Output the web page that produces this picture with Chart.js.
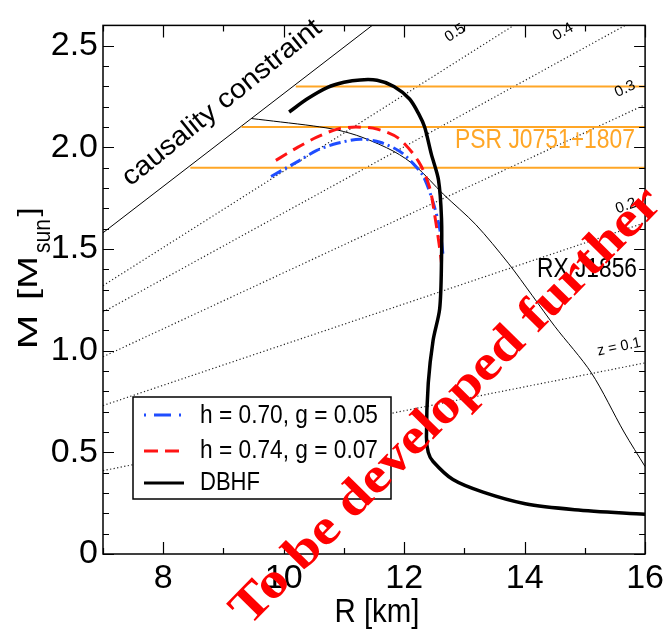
<!DOCTYPE html>
<html><head><meta charset="utf-8">
<script src="https://cdn.jsdelivr.net/npm/chart.js@4.4.1/dist/chart.umd.min.js"></script>
<style>html,body{margin:0;padding:0;background:#fff;}canvas{display:block;}</style>
</head><body>
<canvas id="c" width="668" height="633"></canvas>
<script>
// ---- axis ticks ----
const X_TICKS = [8, 10, 12, 14, 16];
const X_TICK_LABELS = ['8', '10', '12', '14', '16'];
const X_MINOR = [7, 9, 11, 13, 15];
const Y_TICKS = [0, 0.5, 1.0, 1.5, 2.0, 2.5];
const Y_TICK_LABELS = ['0', '0.5', '1.0', '1.5', '2.0', '2.5'];
const Y_MINOR = [0.1,0.2,0.3,0.4,0.6,0.7,0.8,0.9,1.1,1.2,1.3,1.4,1.6,1.7,1.8,1.9,2.1,2.2,2.3,2.4];

// ---- series (R in km, M in Msun) ----
const dbhfR = [10.09,10.4,10.73,11.0,11.27,11.55,11.83,12.09,12.25,12.34,12.45,12.57,12.62,12.62,12.59,12.48,12.40,12.37,12.40,12.48,12.81,13.31,14.01,14.83,16.0];
const dbhfM = [2.174,2.24,2.295,2.32,2.332,2.33,2.30,2.238,2.16,2.10,1.968,1.84,1.65,1.445,1.207,1.05,0.84,0.575,0.50,0.455,0.366,0.304,0.247,0.218,0.195];

const redR = [9.87,10.23,10.55,10.89,11.2,11.55,11.91,12.24,12.42,12.5,12.58,12.62];
const redM = [1.936,2.0,2.05,2.09,2.10,2.09,2.044,1.93,1.806,1.68,1.525,1.43];

const blueR = [9.79,10.23,10.55,10.89,11.27,11.6,11.93,12.15,12.32,12.48,12.59,12.65];
const blueM = [1.857,1.93,1.985,2.02,2.04,2.025,1.98,1.92,1.857,1.73,1.60,1.46];

const rxR = [9.46,9.95,10.5,10.9,11.3,11.83,12.2,12.65,13.19,13.73,14.13,14.5,15.11,15.65,16.0];
const rxM = [2.142,2.125,2.105,2.085,2.05,1.98,1.905,1.77,1.62,1.43,1.27,1.12,0.89,0.60,0.43];

const causalityR = [7.0, 11.47];
const causalityM = [1.58, 2.6];

const z05R = [7.0, 13.82];  const z05M = [1.32, 2.6];
const z04R = [7.0, 15.67];  const z04M = [1.19, 2.6];
const z03R = [7.0, 16.0];   const z03M = [0.97, 2.21];
const z02R = [7.0, 16.0];   const z02M = [0.73, 1.63];
const z01R = [7.0, 16.0];   const z01M = [0.41, 0.94];

const psrStartR = [8.45, 9.3, 10.2];
const psrEndR = [16.0, 16.0, 16.0];
const psrM = [1.9, 2.1, 2.3];

const legendLabels = ['h = 0.70, g = 0.05', 'h = 0.74, g = 0.07', 'DBHF'];

// ---- styles ----
const ORANGE = '#ffa626';
const BLUE = '#1f4dff';
const RED = '#ff1414';
const SANS = '"Liberation Sans", Arial, sans-serif';
const NARROW = '"Liberation Sans Narrow", "Liberation Sans", Arial, sans-serif';

const pts = (xs, ys) => xs.map((x, i) => ({x: x, y: ys[i]}));
const line = (data, color, width, dash, tension) => ({
  data, borderColor: color, borderWidth: width, borderDash: dash || [],
  showLine: true, pointRadius: 0, fill: false, tension: tension || 0
});

const datasets = [
  line(pts(dbhfR, dbhfM), '#000', 3.5, [], 0.3),
  line(pts(redR, redM), RED, 3, [13, 7], 0.3),
  line(pts(blueR, blueM), BLUE, 3, [12, 4, 2, 4], 0.3),
  line(pts(rxR, rxM), '#000', 1, [], 0.3),
];
psrM.forEach((m, i) => datasets.push(line(pts([psrStartR[i], psrEndR[i]], [m, m]), ORANGE, 2)));
datasets.push(line(pts(causalityR, causalityM), '#000', 1));
[[z05R,z05M],[z04R,z04M],[z03R,z03M],[z02R,z02M],[z01R,z01M]].forEach(([r, m]) =>
  datasets.push(line(pts(r, m), '#222', 1.2, [1.2, 2.4])));

function stretchText(ctx, text, font, x, y, angleDeg, width, color, baseline) {
  ctx.save();
  ctx.font = font;
  ctx.fillStyle = color;
  const w = ctx.measureText(text).width;
  ctx.translate(x, y);
  ctx.rotate(angleDeg * Math.PI / 180);
  ctx.scale(width / w, 1);
  ctx.textAlign = 'center';
  ctx.textBaseline = baseline || 'alphabetic';
  ctx.fillText(text, 0, 0);
  ctx.restore();
}

const decor = {
  id: 'decor',
  afterDatasetsDraw(chart) {
    const ctx = chart.ctx;
    // legend box
    ctx.save();
    ctx.fillStyle = '#fff';
    ctx.fillRect(133, 397, 258, 102);
    ctx.strokeStyle = '#000';
    ctx.lineWidth = 1.5;
    ctx.strokeRect(133, 397, 258, 102);
    const rows = [
      {y: 415, color: BLUE, dash: [2, 8, 17, 8], w: 3},
      {y: 451, color: RED, dash: [14, 7], w: 3},
      {y: 483, color: '#000', dash: [], w: 3},
    ];
    const base = [423, 458, 490];
    const widths = [178, 178, 60];
    rows.forEach((r, i) => {
      ctx.beginPath();
      ctx.setLineDash(r.dash);
      ctx.strokeStyle = r.color;
      ctx.lineWidth = r.w;
      ctx.moveTo(144, r.y); ctx.lineTo(184, r.y);
      ctx.stroke();
      ctx.setLineDash([]);
      stretchText(ctx, legendLabels[i], '25px ' + SANS, 200 + widths[i] / 2, base[i], 0, widths[i], '#000');
    });
    ctx.restore();
  },
  afterDraw(chart) {
    const ctx = chart.ctx;
    const a = chart.chartArea;
    const sx = chart.scales.x, sy = chart.scales.y;
    ctx.save();
    ctx.strokeStyle = '#000';
    ctx.lineWidth = 1.5;
    ctx.setLineDash([]);
    ctx.strokeRect(a.left, a.top, a.right - a.left, a.bottom - a.top);
    ctx.lineWidth = 1.2;
    ctx.beginPath();
    const xt = (vals, len) => vals.forEach(v => {
      const p = Math.round(sx.getPixelForValue(v)) + 0.5;
      ctx.moveTo(p, a.bottom); ctx.lineTo(p, a.bottom - len);
      ctx.moveTo(p, a.top); ctx.lineTo(p, a.top + len);
    });
    const yt = (vals, len) => vals.forEach(v => {
      const p = Math.round(sy.getPixelForValue(v)) + 0.5;
      ctx.moveTo(a.left, p); ctx.lineTo(a.left + len, p);
      ctx.moveTo(a.right, p); ctx.lineTo(a.right - len, p);
    });
    xt(X_TICKS, 12); xt(X_MINOR, 6);
    yt(Y_TICKS, 11); yt(Y_MINOR, 6);
    ctx.stroke();

    // axis titles
    stretchText(ctx, 'R [km]', '34px ' + SANS, 377, 622, 0, 85, '#000');
    stretchText(ctx, 'M', '28px ' + SANS, 37, 332, -90, 35, '#000');
    stretchText(ctx, '[M', '28px ' + SANS, 37, 278, -90, 44, '#000');
    stretchText(ctx, 'sun', '23px ' + SANS, 50, 236, -90, 34, '#000');
    stretchText(ctx, ']', '28px ' + SANS, 37, 212, -90, 9, '#000');

    // annotations
    stretchText(ctx, 'causality constraint', '27px ' + SANS, 222, 103, -39, 248, '#000', 'middle');
    stretchText(ctx, 'PSR J0751+1807', '28px ' + SANS, 545, 148, 0, 180, ORANGE);
    stretchText(ctx, 'RX J1856', '27px ' + SANS, 587, 277, 0, 100, '#000');
    stretchText(ctx, '0.5', '15px ' + SANS, 455, 33, -33, 21, '#000', 'middle');
    stretchText(ctx, '0.4', '15px ' + SANS, 563, 32, -30, 21, '#000', 'middle');
    stretchText(ctx, '0.3', '15px ' + SANS, 625, 89, -25, 21, '#000', 'middle');
    stretchText(ctx, '0.2', '15px ' + SANS, 626, 206, -20, 21, '#000', 'middle');
    stretchText(ctx, 'z = 0.1', '15px ' + SANS, 619, 347, -11.5, 44, '#000', 'middle');

    // watermark
    stretchText(ctx, 'To be developed further', 'bold 50px "Liberation Serif", "Times New Roman", serif',
      447, 407, -45.5, 592, '#ff0000', 'middle');
    ctx.restore();
  }
};

new Chart(document.getElementById('c'), {
  type: 'scatter',
  data: {datasets},
  options: {
    responsive: false,
    animation: false,
    devicePixelRatio: 1,
    layout: {padding: {left: 0, top: 6, right: 17, bottom: 0}},
    plugins: {legend: {display: false}, tooltip: {enabled: false}},
    scales: {
      x: {
        type: 'linear', min: 7, max: 16,
        grid: {display: false, drawTicks: false},
        border: {display: false},
        afterBuildTicks: s => { s.ticks = X_TICKS.map(v => ({value: v})); },
        afterFit: s => { s.height = 79; },
        ticks: {
          autoSkip: false, maxRotation: 0, padding: 4, color: '#000',
          font: {family: NARROW, size: 34},
          callback: (v, i) => X_TICK_LABELS[i]
        }
      },
      y: {
        type: 'linear', min: 0, max: 2.6,
        grid: {display: false, drawTicks: false},
        border: {display: false},
        afterBuildTicks: s => { s.ticks = Y_TICKS.map(v => ({value: v})); },
        afterFit: s => { s.width = 103; },
        ticks: {
          autoSkip: false, padding: 5, color: '#000',
          font: {family: NARROW, size: 34},
          callback: (v, i) => Y_TICK_LABELS[i]
        }
      }
    }
  },
  plugins: [decor]
});
</script>
</body></html>
